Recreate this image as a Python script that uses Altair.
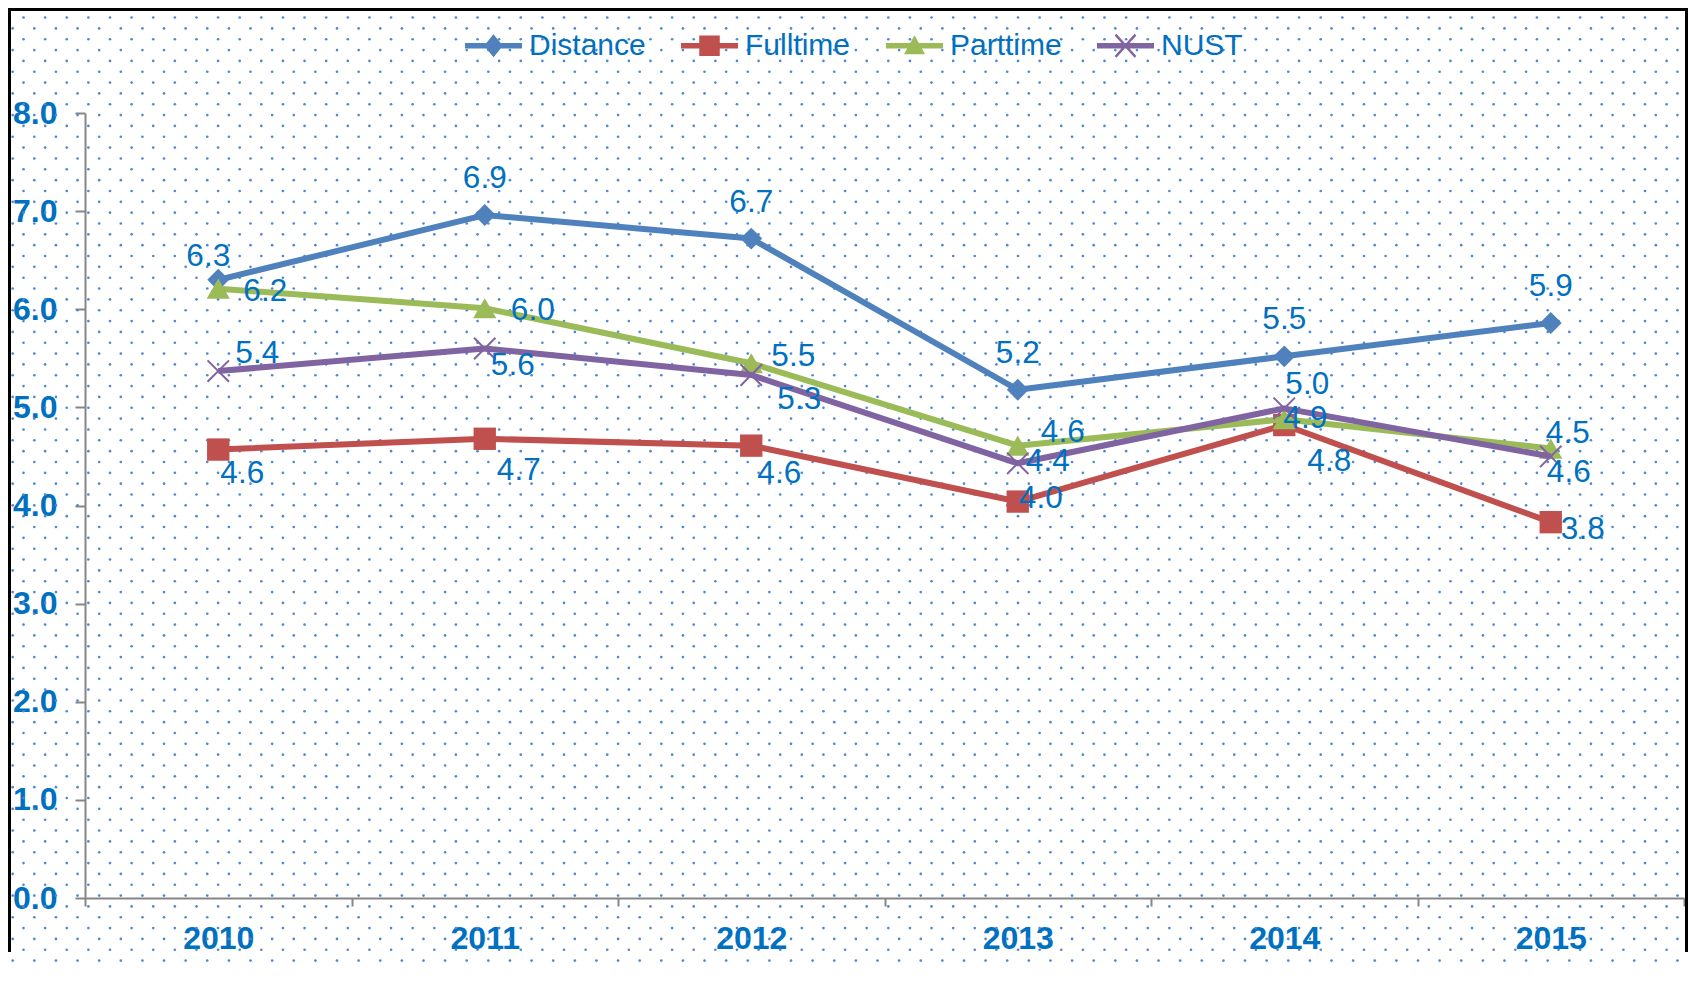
import altair as alt
import pandas as pd

# ---------------- data ----------------
years = ["2010", "2011", "2012", "2013", "2014", "2015"]
series = ["Distance", "Fulltime", "Parttime", "NUST"]

distance = [6.30, 6.96, 6.72, 5.18, 5.52, 5.86]
fulltime = [4.57, 4.68, 4.61, 4.04, 4.82, 3.83]
parttime = [6.21, 6.01, 5.45, 4.61, 4.88, 4.58]
nust = [5.37, 5.60, 5.33, 4.43, 4.99, 4.50]

distance_labels = ["6.3", "6.9", "6.7", "5.2", "5.5", "5.9"]
fulltime_labels = ["4.6", "4.7", "4.6", "4.0", "4.8", "3.8"]
parttime_labels = ["6.2", "6.0", "5.5", "4.6", "4.9", "4.5"]
nust_labels = ["5.4", "5.6", "5.3", "4.4", "5.0", "4.6"]

y_ticks = [0, 1, 2, 3, 4, 5, 6, 7, 8]

values = {"Distance": distance, "Fulltime": fulltime, "Parttime": parttime, "NUST": nust}
labels = {"Distance": distance_labels, "Fulltime": fulltime_labels,
          "Parttime": parttime_labels, "NUST": nust_labels}

rows = []
for s in series:
    for yr, v, lb in zip(years, values[s], labels[s]):
        rows.append({"year": yr, "series": s, "value": v, "label": lb})
df = pd.DataFrame(rows)

# ---------------- styles ----------------
colors = ["#4f81bd", "#c0504d", "#9bbb59", "#8064a2"]
label_color = "#0070c0"
axis_color = "#868686"
FONT = "Liberation Sans"

W, H = 1599, 785
PAD = {"left": 77, "top": 105, "right": 4, "bottom": 74}

marker_style = {
    "Distance": dict(shape="diamond", size=480, filled=True),
    "Fulltime": dict(shape="square", size=500, filled=True),
    "Parttime": dict(shape="triangle-up", size=540, filled=True),
    "NUST": dict(shape="M-1,-1L1,1M-1,1L1,-1", size=460, filled=False, strokeWidth=2),
}
# data-label nudges (pixels) per point, like Excel's individually placed labels
label_nudge = {
    "Distance": [(-10, -23), (0, -36), (0, -36), (0, -36), (0, -36), (0, -36)],
    "Fulltime": [(24, 24), (34, 32), (28, 28), (23, -3), (45, 37), (32, 8)],
    "Parttime": [(47, 3), (48, 3), (42, -6), (45, -13), (21, 0), (17, -15)],
    "NUST": [(39, -17), (28, 17), (48, 25), (30, -1), (23, -23), (18, 17)],
}

# legend symbols: line + marker, in [-1, 1] units
legend_paths = [
    "M-1,-0.095H1V0.095H-1Z M0,-0.4L0.33,0L0,0.4L-0.33,0Z",
    "M-1,-0.095H1V0.095H-1Z M-0.36,-0.36H0.36V0.36H-0.36Z",
    "M-1,-0.095H1V0.095H-1Z M0,-0.37L0.37,0.3H-0.37Z",
    "M-1,-0.095H1V0.095H-1Z "
    "M-0.319,-0.418L0.381,0.362L0.319,0.418L-0.381,-0.362Z "
    "M-0.381,0.362L0.319,-0.418L0.381,-0.362L-0.319,0.418Z",
]

color_scale = alt.Scale(domain=series, range=colors)

x_enc = alt.X(
    "year:N",
    bandPosition=0.5,
    scale=alt.Scale(type="band", domain=years, paddingInner=0, paddingOuter=0),
    axis=alt.Axis(
        title=None, grid=False, labelAngle=0, tickBand="extent",
        domainColor=axis_color, domainWidth=2, tickColor=axis_color, tickWidth=2, tickSize=8,
        labelFont=FONT, labelFontSize=32, labelFontWeight="bold", labelColor=label_color,
        labelPadding=17,
    ),
)
y_enc = alt.Y(
    "value:Q",
    scale=alt.Scale(domain=[0, 8], nice=False, zero=True),
    axis=alt.Axis(
        title=None, grid=False, values=y_ticks, format=".1f",
        domainColor=axis_color, domainWidth=2, tickColor=axis_color, tickWidth=2, tickSize=10,
        labelFont=FONT, labelFontSize=32, labelFontWeight="bold", labelColor=label_color,
        labelPadding=18,
    ),
)

# ---------------- background dot pattern ----------------
N_COLS, N_ROWS = 79, 89
bg = (
    alt.Chart(alt.sequence(0, N_COLS * N_ROWS, as_="i"))
    .transform_calculate(
        r="floor(datum.i / %d)" % N_COLS,
        c="datum.i %% %d" % N_COLS,
    )
    .transform_calculate(
        px="-72.3 + datum.c * 21.62 + (datum.r % 2) * 10.81",
        py="-106.3 + datum.r * 10.84",
    )
    .mark_circle(size=7, color="#4f88d2", opacity=1)
    .encode(
        x=alt.X("px:Q", scale=None, axis=None),
        y=alt.Y("py:Q", scale=None, axis=None),
    )
)

# ---------------- outer frame (left, top, right edges) ----------------
one = alt.Chart(pd.DataFrame({"k": [0]}))
frame_left = one.mark_rule(color="black", strokeWidth=3).encode(
    x=alt.value(-PAD["left"] + 1.5), y=alt.value(-PAD["top"]), y2=alt.value(H + PAD["bottom"] - 20))
frame_top = one.mark_rule(color="black", strokeWidth=3).encode(
    x=alt.value(-PAD["left"]), x2=alt.value(W + PAD["right"]), y=alt.value(-PAD["top"] + 1.5))
frame_right = one.mark_rule(color="black", strokeWidth=3).encode(
    x=alt.value(W + PAD["right"] - 1.5), y=alt.value(-PAD["top"]), y2=alt.value(H + PAD["bottom"] - 20))

base = alt.Chart(df)

legend_def = alt.Legend(
    orient="none", legendX=380, legendY=-96, direction="horizontal", columns=4,
    title=None, labelFont=FONT, labelFontSize=30, labelColor=label_color,
    labelOffset=7, columnPadding=35, symbolSize=3249, symbolStrokeWidth=0,
    padding=0, labelLimit=300, symbolOpacity=1,
)
# legend carrier: no visible marks, just defines the combined colour+shape legend
legend_layer = base.transform_filter("false").mark_point(filled=True, size=3249).encode(
    x=x_enc, y=y_enc,
    color=alt.Color("series:N", scale=color_scale, legend=legend_def),
    shape=alt.Shape("series:N", scale=alt.Scale(domain=series, range=legend_paths), legend=legend_def),
)

layers = [bg, frame_left, frame_top, frame_right, legend_layer]
for s in series:
    sub = base.transform_filter(alt.datum.series == s)
    line = sub.mark_line(strokeWidth=6, strokeJoin="round").encode(
        x=x_enc, y=y_enc, color=alt.Color("series:N", scale=color_scale, legend=None)
    )
    pt = sub.mark_point(opacity=1, **marker_style[s]).encode(
        x=x_enc, y=y_enc, color=alt.Color("series:N", scale=color_scale, legend=None)
    )
    layers += [line, pt]

for s in series:
    for yr, (dx, dy) in zip(years, label_nudge[s]):
        txt = base.transform_filter(
            (alt.datum.series == s) & (alt.datum.year == yr)
        ).mark_text(
            font=FONT, fontSize=31.5, color=label_color, align="center", baseline="middle",
            dx=dx, dy=dy,
        ).encode(x=x_enc, y=y_enc, text="label:N")
        layers.append(txt)

chart = (
    alt.layer(*layers)
    .properties(width=W, height=H, padding=PAD, autosize=alt.AutoSizeParams(type="none"),
                background="white")
    .configure_view(strokeWidth=0)
)

chart.save("out.html", embed_options={"renderer": "svg", "actions": False})
